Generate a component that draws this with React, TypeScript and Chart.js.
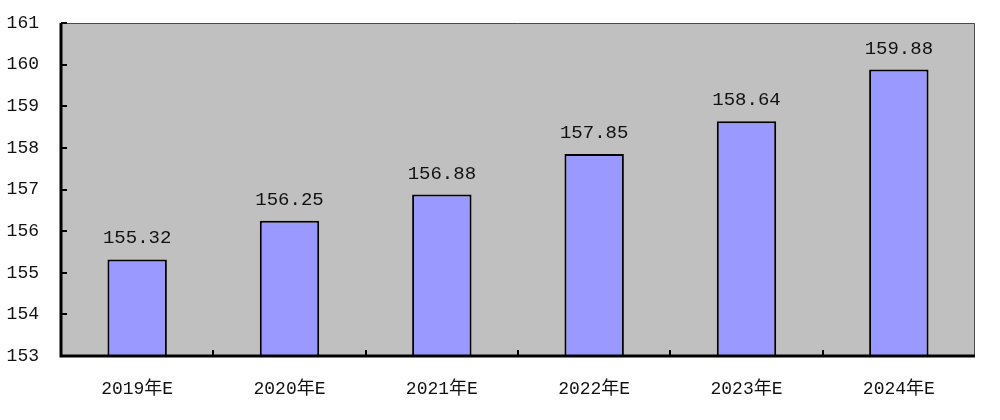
import React, { useEffect, useRef } from "react";
import { Chart, registerables } from "chart.js";

Chart.register(...registerables);

const categories = ["2019年E", "2020年E", "2021年E", "2022年E", "2023年E", "2024年E"];
const values = [155.32, 156.25, 156.88, 157.85, 158.64, 159.88];
const yMin = 153;
const yMax = 161;

const MONO = "'Liberation Mono', 'DejaVu Sans Mono', 'Noto Sans CJK SC', monospace";

const framePlugin = {
  id: "frame",
  beforeDatasetsDraw(chart: any) {
    const { ctx, chartArea: a } = chart;
    ctx.save();
    ctx.fillStyle = "#c0c0c0";
    ctx.fillRect(a.left, a.top, a.right - a.left, a.bottom - a.top);
    ctx.restore();
  },
  afterDatasetsDraw(chart: any) {
    const { ctx, chartArea: a } = chart;
    const y = chart.scales.y;
    const x = chart.scales.x;
    ctx.save();
    ctx.strokeStyle = "#4a4a4a";
    ctx.lineWidth = 1;
    ctx.beginPath();
    ctx.moveTo(a.left, a.top + 0.5);
    ctx.lineTo(a.right - 0.5, a.top + 0.5);
    ctx.lineTo(a.right - 0.5, a.bottom);
    ctx.stroke();
    ctx.strokeStyle = "#000";
    ctx.lineWidth = 3;
    ctx.beginPath();
    ctx.moveTo(a.left, a.top);
    ctx.lineTo(a.left, a.bottom);
    ctx.lineTo(a.right, a.bottom);
    ctx.stroke();
    ctx.lineWidth = 2;
    ctx.beginPath();
    y.ticks.forEach((t: any) => {
      const py = Math.round(y.getPixelForValue(t.value));
      ctx.moveTo(a.left, py);
      ctx.lineTo(a.left + 6, py);
    });
    const n = categories.length;
    for (let i = 1; i < n; i++) {
      const px = Math.round((x.getPixelForValue(i - 1) + x.getPixelForValue(i)) / 2);
      ctx.moveTo(px, a.bottom);
      ctx.lineTo(px, a.bottom - 6);
    }
    ctx.stroke();
    ctx.fillStyle = "#111";
    ctx.font = "19px " + MONO;
    ctx.textAlign = "center";
    ctx.textBaseline = "middle";
    const meta = chart.getDatasetMeta(0);
    meta.data.forEach((bar: any, i: number) => {
      ctx.fillText(values[i].toFixed(2), bar.x, bar.y - 21);
    });
    ctx.restore();
  },
};

export default function App() {
  const ref = useRef<HTMLCanvasElement>(null);
  useEffect(() => {
    document.body.style.margin = "0";
    const chart = new Chart(ref.current!, {
      type: "bar",
      data: {
        labels: categories,
        datasets: [
          {
            data: values,
            backgroundColor: "#9999ff",
            borderColor: "#000",
            borderWidth: 2,
            borderSkipped: false,
            categoryPercentage: 1,
            barPercentage: 0.39,
          },
        ],
      },
      options: {
        animation: false,
        responsive: false,
        maintainAspectRatio: false,
        layout: { padding: { left: 0, top: 23, right: 25, bottom: 0 } },
        plugins: { legend: { display: false }, tooltip: { enabled: false } },
        scales: {
          x: {
            grid: { display: false, drawTicks: false },
            border: { display: false },
            ticks: { color: "#111", font: { family: MONO, size: 18 }, padding: 22, maxRotation: 0 },
            afterFit(s: any) {
              s.height = 64;
              s.paddingLeft = 0;
              s.paddingRight = 0;
            },
          },
          y: {
            min: yMin,
            max: yMax,
            grid: { display: false, drawTicks: false },
            border: { display: false },
            ticks: { stepSize: 1, color: "#111", font: { family: MONO, size: 18 }, padding: 22 },
            afterFit(s: any) {
              s.width = 61;
              s.paddingTop = 0;
              s.paddingBottom = 0;
            },
          },
        },
      },
      plugins: [framePlugin],
    });
    return () => chart.destroy();
  }, []);
  return (
    <div style={{ width: 1000, height: 420, background: "#fff" }}>
      <canvas ref={ref} width={1000} height={420} />
    </div>
  );
}
